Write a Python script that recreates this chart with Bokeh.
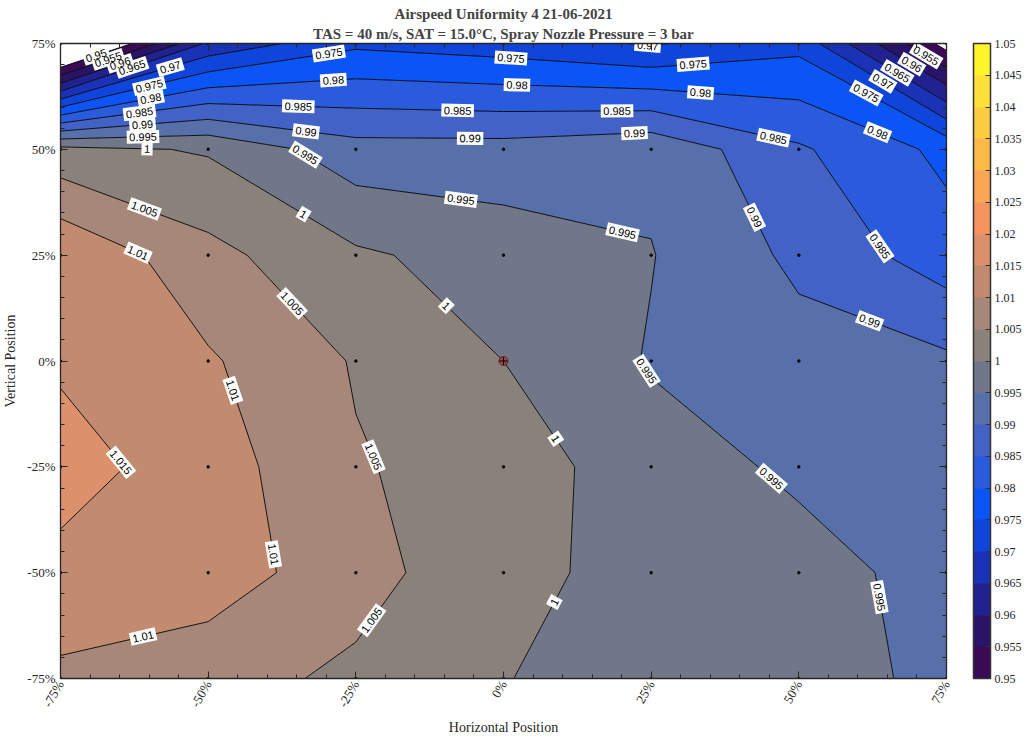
import math
import numpy as np
from contourpy import contour_generator
from bokeh.plotting import figure
from bokeh.models import (Range1d, LinearAxis, FixedTicker, ColorBar, LinearColorMapper,
                          Title, CustomJSTickFormatter, ColumnDataSource)
from bokeh.core.properties import value
from bokeh.embed import file_html
from bokeh.resources import INLINE

# ---------------- data ----------------
x_pos = [-75, -50, -25, 0, 25, 50, 75]
y_pos = [-75, -50, -25, 0, 25, 50, 75]

row_y_m75 = [1.0090, 1.0071, 1.0039, 1.0003, 0.9960, 0.9968, 0.9940]
row_y_m50 = [1.0136, 1.0125, 1.0071, 1.0009, 0.9989, 0.9966, 0.9935]
row_y_m25 = [1.0170, 1.0124, 1.0054, 1.0027, 0.9971, 0.9942, 0.9925]
row_y_0   = [1.0143, 1.0106, 1.0046, 1.0000, 0.9946, 0.9919, 0.9909]
row_y_p25 = [1.0145, 1.0065, 1.0008, 0.9977, 0.9952, 0.9889, 0.9823]
row_y_p50 = [1.0015, 0.9995, 0.9920, 0.9920, 0.9939, 0.9857, 0.9787]
row_y_p75 = [0.9350, 0.9660, 0.9740, 0.9724, 0.9695, 0.9735, 0.9480]

ref_point_x = [0]
ref_point_y = [0]

levels = [round(0.95 + 0.005 * i, 3) for i in range(21)]
palette = [
    "#3b0a55", "#2a1468", "#212290", "#1a33b6", "#0f45da",
    "#0b55f6", "#2a5bdd", "#4262c6", "#5770a9", "#6f7789",
    "#8a817b", "#a68779", "#c28b70", "#dc906b", "#f4945f",
    "#faa553", "#fbb947", "#fccc40", "#fde13a", "#fef52a",
]
axis_ticks = [-75, -50, -25, 0, 25, 50, 75]
axis_tick_labels = ["-75%", "-50%", "-25%", "0%", "25%", "50%", "75%"]
minor_ticks = list(range(-75, 76, 5))

title_1 = "Airspeed Uniformity 4 21-06-2021"
title_2 = "TAS = 40 m/s, SAT = 15.0\u00b0C, Spray Nozzle Pressure = 3 bar"

# ---------------- layout ----------------
FW, FH = 886, 635
Z = np.array([row_y_m75, row_y_m50, row_y_m25, row_y_0, row_y_p25, row_y_p50, row_y_p75])

p = figure(frame_width=FW, frame_height=FH,
           x_range=Range1d(-75, 75), y_range=Range1d(-75, 75),
           output_backend="svg", toolbar_location=None, title=None,
           min_border_left=59, min_border_top=43, min_border_bottom=52, min_border_right=76,
           background_fill_color="white", border_fill_color="white",
           outline_line_color="#262626")
p.xgrid.visible = False
p.ygrid.visible = False

p.contour(x=x_pos, y=y_pos, z=Z, levels=levels, fill_color=palette,
          line_color="black", line_width=0.9)

# grid markers
XX, YY = np.meshgrid(x_pos, y_pos)
p.scatter(XX.ravel(), YY.ravel(), size=2.5, color="black")
p.scatter(ref_point_x, ref_point_y, marker="circle", size=9, fill_color="#a04444",
          fill_alpha=0.85, line_color="#6a2020")
p.scatter(ref_point_x, ref_point_y, marker="cross", size=8, line_color="black", line_width=1)

# contour labels computed from the contour geometry
kx = FW / 150.0
ky = FH / 150.0
gen = contour_generator(x=np.array(x_pos, float), y=np.array(y_pos, float), z=Z,
                        name="serial", line_type="Separate")
S = 172.0
lx, ly, lt, la, lw = [], [], [], [], []
for lv in levels:
    txt = f"{lv:g}"
    tw = sum(0.556 * 11 if c.isdigit() else 0.278 * 11 for c in txt) + 5
    for seg in gen.lines(lv):
        seg = np.asarray(seg, float)
        if len(seg) < 2:
            continue
        px = seg[:, 0] * kx
        py = seg[:, 1] * ky
        d = np.hypot(np.diff(px), np.diff(py))
        cum = np.concatenate([[0.0], np.cumsum(d)])
        L = cum[-1]
        if L < 40:
            continue
        n = max(1, int(round(L / S)))
        for k in range(n):
            s = (k + 0.5) * L / n
            i = int(np.searchsorted(cum, s) - 1)
            i = max(0, min(i, len(d) - 1))
            t = (s - cum[i]) / d[i] if d[i] > 0 else 0.0
            xx = seg[i, 0] + t * (seg[i + 1, 0] - seg[i, 0])
            yy = seg[i, 1] + t * (seg[i + 1, 1] - seg[i, 1])
            ang = math.atan2(py[i + 1] - py[i], px[i + 1] - px[i])
            if ang > math.pi / 2:
                ang -= math.pi
            elif ang <= -math.pi / 2:
                ang += math.pi
            lx.append(xx); ly.append(yy); lt.append(txt); la.append(ang); lw.append(tw)

lab_src = ColumnDataSource(dict(x=lx, y=ly, t=lt, a=la, w=lw))
p.rect(x="x", y="y", width="w", height=13, angle="a", width_units="screen",
       height_units="screen", fill_color="white", line_color=None, source=lab_src)
p.text(x="x", y="y", text="t", angle="a", source=lab_src, text_align="center",
       text_baseline="middle", text_font=value("Liberation Sans"),
       text_font_size=value("11px"), text_color="black")

# axes
overrides = {t: s for t, s in zip(axis_ticks, axis_tick_labels)}


def style_axis(ax, show):
    ax.ticker = FixedTicker(ticks=axis_ticks, minor_ticks=minor_ticks)
    ax.major_tick_in = 7
    ax.major_tick_out = 0
    ax.minor_tick_in = 4
    ax.minor_tick_out = 0
    ax.axis_line_color = "#262626"
    ax.axis_line_width = 1.3
    ax.major_tick_line_color = "#262626"
    ax.minor_tick_line_color = "#262626"
    ax.major_label_text_font = "Liberation Serif"
    ax.major_label_text_font_size = "13px"
    ax.major_label_text_color = "#262626"
    if show:
        ax.major_label_overrides = overrides
    else:
        ax.major_label_text_color = None
        ax.major_label_text_font_size = "1px"
        ax.major_label_standoff = 0


style_axis(p.xaxis[0], True)
style_axis(p.yaxis[0], True)
p.xaxis.major_label_orientation = math.pi / 3
p.xaxis.major_label_standoff = 3
p.xaxis.axis_label = "Horizontal Position"
p.xaxis.axis_label_standoff = 4
p.yaxis.axis_label = "Vertical Position"
p.yaxis.axis_label_standoff = 6
p.yaxis.major_label_standoff = 5
for ax in (p.xaxis[0], p.yaxis[0]):
    ax.axis_label_text_font = "Liberation Serif"
    ax.axis_label_text_font_size = "14px"
    ax.axis_label_text_font_style = "normal"
    ax.axis_label_text_color = "#262626"

top_ax = LinearAxis()
style_axis(top_ax, False)
p.add_layout(top_ax, "above")
right_ax = LinearAxis()
style_axis(right_ax, False)
p.add_layout(right_ax, "right")

# titles
p.add_layout(Title(text=title_2, align="center", text_font="Liberation Serif",
                   text_font_size="15px", text_font_style="bold", standoff=4), "above")
p.add_layout(Title(text=title_1, align="center", text_font="Liberation Serif",
                   text_font_size="15px", text_font_style="bold", standoff=0), "above")

# colorbar
mapper = LinearColorMapper(palette=palette, low=levels[0], high=levels[-1])
cb = ColorBar(color_mapper=mapper, ticker=FixedTicker(ticks=levels),
              formatter=CustomJSTickFormatter(code="return String(Math.round(tick*1000)/1000);"),
              width=17, height=FH, location=(27, 0), margin=0, padding=0,
              bar_line_color="#333333", bar_line_width=1.5,
              major_tick_in=5, major_tick_out=0, major_tick_line_color="#333333",
              major_label_text_font="Liberation Serif", major_label_text_font_size="12px",
              major_label_text_color="#262626", label_standoff=4,
              border_line_color=None, background_fill_color=None)
p.add_layout(cb, "right")

open("out.html", "w").write(file_html(p, INLINE))
